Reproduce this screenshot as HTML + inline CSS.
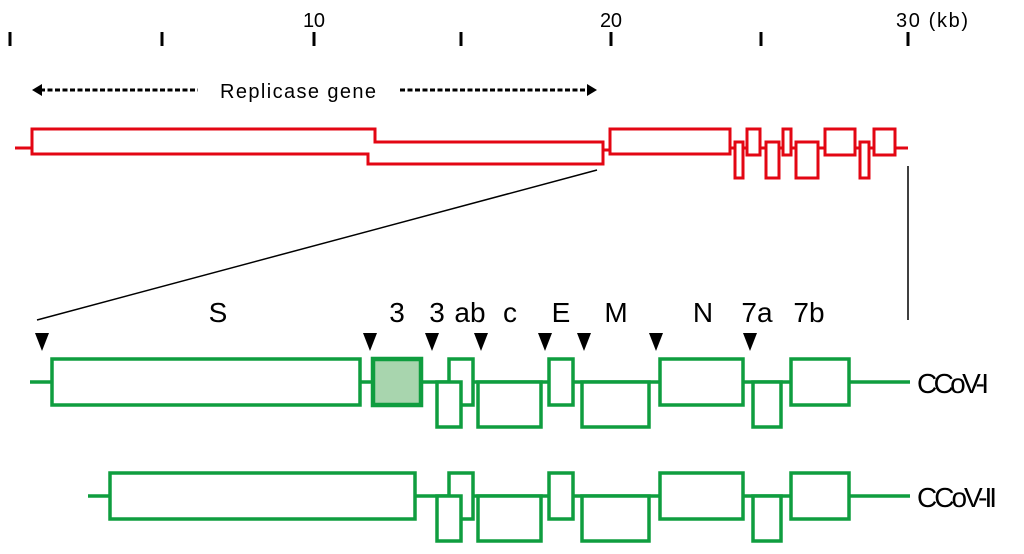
<!DOCTYPE html>
<html><head><meta charset="utf-8"><style>
html,body{margin:0;padding:0;background:#fff;}
svg text{font-family:"Liberation Sans",sans-serif;fill:#000;}
</style></head><body>
<svg width="1024" height="549" viewBox="0 0 1024 549" xmlns="http://www.w3.org/2000/svg">
<!-- ruler -->
<g stroke="#000" stroke-width="3">
<line x1="10" y1="32" x2="10" y2="46"/><line x1="162" y1="32" x2="162" y2="46"/>
<line x1="314" y1="32" x2="314" y2="46"/><line x1="461" y1="32" x2="461" y2="46"/>
<line x1="611" y1="32" x2="611" y2="46"/><line x1="761" y1="32" x2="761" y2="46"/>
<line x1="908" y1="32" x2="908" y2="46"/>
</g>
<g font-size="20">
<text x="314" y="27" text-anchor="middle" textLength="22">10</text>
<text x="611" y="27" text-anchor="middle" textLength="22">20</text>
<text x="896" y="27" textLength="72">30 (kb)</text>
</g>
<!-- replicase arrows -->
<g stroke="#000" stroke-width="3" stroke-dasharray="5,2.5">
<line x1="40" y1="90" x2="198" y2="90"/><line x1="400" y1="90" x2="585" y2="90"/>
</g>
<polygon points="32,90 42,84 42,96" fill="#000"/>
<polygon points="597,90 587,84 587,96" fill="#000"/>
<text x="298" y="98" font-size="20" text-anchor="middle" textLength="156">Replicase gene</text>
<!-- red genome -->
<g fill="none" stroke="#e30613" stroke-width="3">
<line x1="15" y1="148" x2="32" y2="148"/>
<polyline points="32,148 32,129 375,129 375,142 603,142 603,164 368,164 368,154 32,154 32,148"/>
<line x1="603" y1="150" x2="610" y2="150"/>
<rect x="610" y="129" width="120" height="25"/>
<line x1="730" y1="148" x2="908" y2="148"/>
<rect x="735" y="142" width="8" height="36" fill="#fff"/>
<rect x="747" y="129" width="13" height="26" fill="#fff"/>
<rect x="766" y="142" width="13" height="36" fill="#fff"/>
<rect x="783" y="129" width="8" height="26" fill="#fff"/>
<rect x="796" y="142" width="22" height="36" fill="#fff"/>
<rect x="825" y="129" width="30" height="26" fill="#fff"/>
<rect x="860" y="142" width="9" height="36" fill="#fff"/>
<rect x="874" y="129" width="21" height="26" fill="#fff"/>
</g>
<!-- zoom lines -->
<line x1="597" y1="170" x2="37" y2="320" stroke="#000" stroke-width="1.5"/>
<line x1="908" y1="166" x2="908" y2="320" stroke="#000" stroke-width="1.5"/>
<!-- labels -->
<g font-size="28" text-anchor="middle">
<text x="218" y="322">S</text><text x="397" y="322">3</text>
<text x="437" y="322">3</text><text x="470" y="322">ab</text>
<text x="510" y="322">c</text><text x="561" y="322">E</text>
<text x="616" y="322">M</text><text x="703" y="322">N</text>
<text x="757" y="322">7a</text><text x="809" y="322">7b</text>
</g>
<g fill="#000">
<polygon points="35,333 49,333 42,351"/><polygon points="363,333 377,333 370,351"/>
<polygon points="425,333 439,333 432,351"/><polygon points="474,333 488,333 481,351"/>
<polygon points="538,333 552,333 545,351"/><polygon points="577,333 591,333 584,351"/>
<polygon points="649,333 663,333 656,351"/><polygon points="743,333 757,333 750,351"/>
</g>
<!-- CCoV-I -->
<g fill="#fff" stroke="#0f9d3f" stroke-width="3.5">
<line x1="30" y1="382" x2="910" y2="382"/>
<rect x="52" y="359" width="308" height="46"/>
<rect x="373" y="359" width="48" height="46" fill="#a8d5ae" stroke-width="4.5"/>
<rect x="449" y="359" width="24" height="46"/>
<rect x="437" y="382" width="24" height="45"/>
<rect x="478" y="382" width="63" height="45"/>
<rect x="549" y="359" width="24" height="46"/>
<rect x="582" y="382" width="67" height="45"/>
<rect x="660" y="359" width="83" height="46"/>
<rect x="753" y="382" width="28" height="45"/>
<rect x="791" y="359" width="58" height="46"/>
</g>
<text x="917" y="393" font-size="28" textLength="72">CCoV-I</text>
<!-- CCoV-II -->
<g fill="#fff" stroke="#0f9d3f" stroke-width="3.5">
<line x1="88" y1="496" x2="910" y2="496"/>
<rect x="110" y="473" width="305" height="46"/>
<rect x="449" y="473" width="24" height="46"/>
<rect x="437" y="496" width="24" height="45"/>
<rect x="478" y="496" width="63" height="45"/>
<rect x="549" y="473" width="24" height="46"/>
<rect x="582" y="496" width="67" height="45"/>
<rect x="660" y="473" width="83" height="46"/>
<rect x="753" y="496" width="28" height="45"/>
<rect x="791" y="473" width="58" height="46"/>
</g>
<text x="917" y="507" font-size="28" textLength="80">CCoV-II</text>
</svg>
</body></html>
